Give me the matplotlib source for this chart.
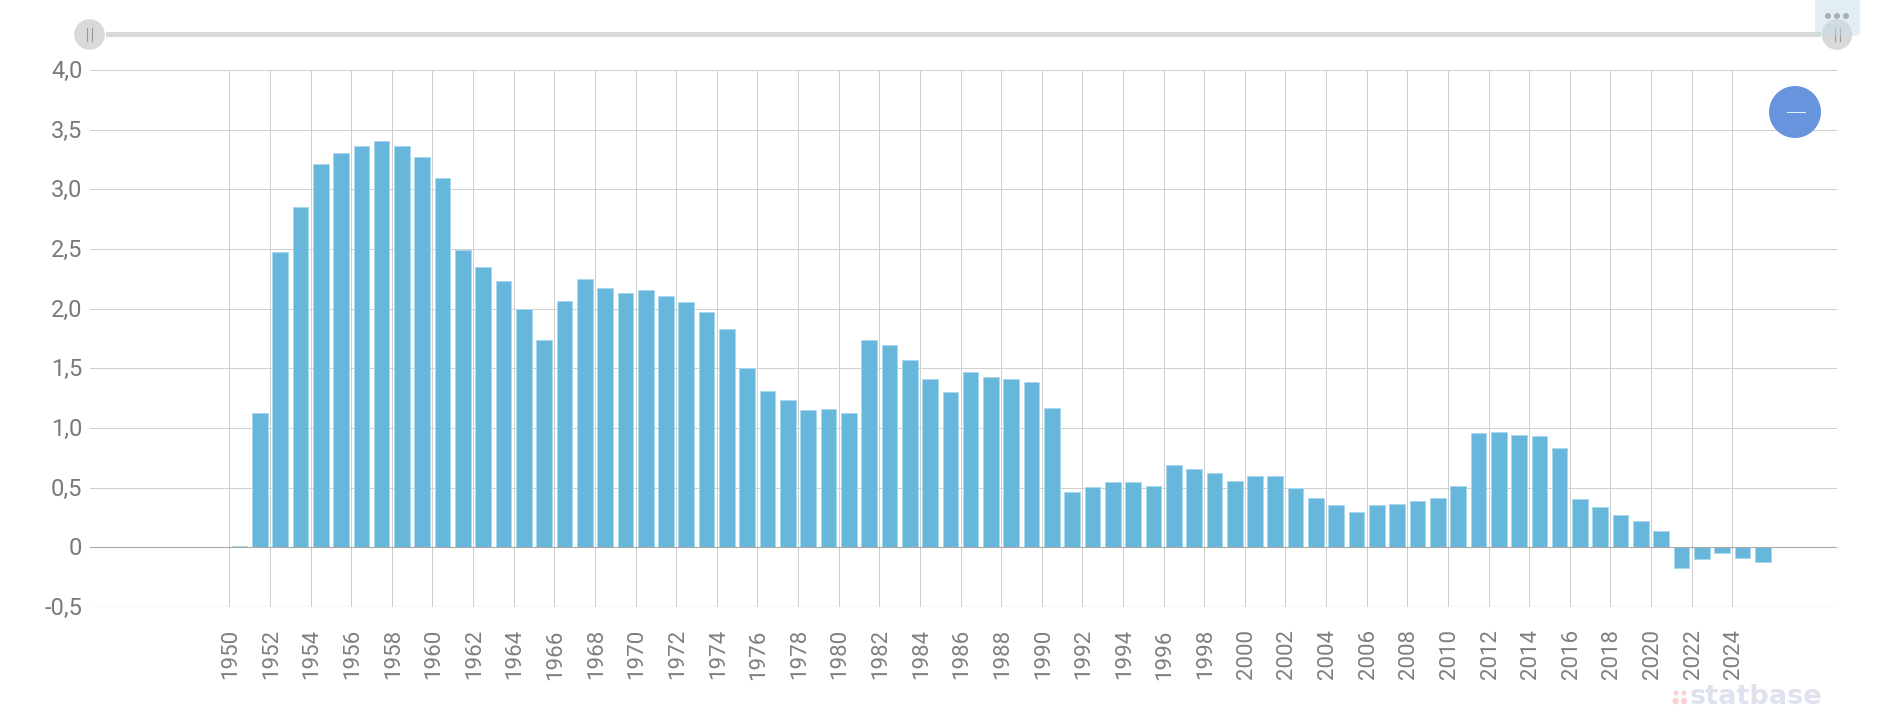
import matplotlib
matplotlib.use("Agg")
import matplotlib.pyplot as plt
from matplotlib.patches import Circle, Rectangle, FancyBboxPatch
from matplotlib.transforms import ScaledTranslation

years = list(range(1950, 2026))
values = [0.01, 1.125, 2.475, 2.855, 3.215, 3.305, 3.365, 3.405, 3.365, 3.275,
          3.095, 2.495, 2.345, 2.235, 1.997, 1.735, 2.067, 2.245, 2.175, 2.135,
          2.155, 2.105, 2.055, 1.975, 1.826, 1.50, 1.307, 1.237, 1.148, 1.156,
          1.126, 1.737, 1.698, 1.567, 1.408, 1.299, 1.466, 1.427, 1.408, 1.385,
          1.168, 0.466, 0.506, 0.547, 0.547, 0.517, 0.687, 0.656, 0.62, 0.556,
          0.595, 0.595, 0.494, 0.416, 0.355, 0.293, 0.355, 0.366, 0.385, 0.416,
          0.514, 0.955, 0.964, 0.944, 0.936, 0.835, 0.405, 0.335, 0.274, 0.223,
          0.134, -0.175, -0.098, -0.05, -0.089, -0.124]
x_ticks = list(range(1950, 2025, 2))
y_ticks = [-0.5, 0, 0.5, 1.0, 1.5, 2.0, 2.5, 3.0, 3.5, 4.0]
y_labels = ["-0,5", "0", "0,5", "1,0", "1,5", "2,0", "2,5", "3,0", "3,5", "4,0"]

W, H = 1886, 713
plt.rcParams['font.family'] = ['Roboto', 'DejaVu Sans']
fig = plt.figure(figsize=(W / 100, H / 100), dpi=100, facecolor='white')
L, R, T, B = 90, 1837, 70, 607
ax = fig.add_axes([L / W, 1 - B / H, (R - L) / W, (B - T) / H])
ax.set_xlim(1943.14, 2029.155)
ax.set_ylim(-0.5, 4.0)
for s in ax.spines.values():
    s.set_visible(False)
ax.set_axisbelow(True)
ax.set_yticks(y_ticks, y_labels)
ax.set_xticks(x_ticks, [str(y) for y in x_ticks], rotation=90)
ax.tick_params(length=0)
ax.tick_params(axis='y', labelsize=17, labelcolor='#7a7a7a', pad=5.5)
ax.tick_params(axis='x', labelsize=16, labelcolor='#7f7f7f', pad=16)
yshift = ScaledTranslation(0, 1 / 100, fig.dpi_scale_trans)
for lab in ax.get_yticklabels():
    lab.set_verticalalignment('center_baseline')
    lab.set_transform(lab.get_transform() + yshift)
shift = ScaledTranslation(1.5 / 100, 0, fig.dpi_scale_trans)
for lab in ax.get_xticklabels():
    lab.set_transform(lab.get_transform() + shift)
ax.grid(True, color='#cfcfcf', lw=0.72)
ax.axhline(-0.5, color='#dedede', lw=1.0, zorder=1.5)
ax.bar([y + 0.5 for y in years], values, width=0.77, color='#67b7dc',
       edgecolor='#a9d7ed', linewidth=0.72, zorder=2)
ax.axhline(0, color='#aaaaaa', lw=0.8, zorder=3)

# interface furniture in pixel coordinates
ui = fig.add_axes([0, 0, 1, 1], zorder=5)
ui.set_xlim(0, W); ui.set_ylim(H, 0); ui.axis('off'); ui.patch.set_alpha(0)
ui.add_patch(Rectangle((106, 32), 1715, 5, color='#d9d9d9', lw=0))
ui.add_patch(Circle((89.5, 34.5), 15.3, color='#d9d9d9', lw=0))
ui.add_patch(Circle((1837, 34.5), 15.3, color='#d9d9d9', lw=0))
for cx in (89.5, 1837):
    for dx in (-2.5, 2.5):
        ui.plot([cx + dx, cx + dx], [28, 41], color='#999999', lw=0.8)
ui.add_patch(FancyBboxPatch((1815, -6), 45, 41.7, boxstyle='round,pad=0,rounding_size=3',
                            fc='#c9dcea', ec='none', alpha=0.5, zorder=4))
for cx in (1828, 1837, 1846):
    ui.add_patch(Circle((cx, 16), 3, color='#808080', lw=0, zorder=3))
ui.add_patch(Circle((1795, 112), 26, color='#6794dc', lw=0))
ui.plot([1786.5, 1804.5], [112, 112], color='white', lw=0.6)
ui.add_patch(Circle((1676, 693), 2.6, color='#fbd0d2', lw=0))
ui.add_patch(Circle((1684, 693), 2.6, color='#fbd0d2', lw=0))
ui.add_patch(Circle((1675.5, 701), 3.1, color='#fbd0d2', lw=0))
ui.add_patch(Circle((1684, 701), 3.1, color='#fbd0d2', lw=0))
ui.text(1690, 704, 'statbase', color='#dfe1ee', fontsize=19.6, fontweight='bold',
        family=['DejaVu Sans'], va='baseline', ha='left')

fig.savefig('out.png', dpi=100)
